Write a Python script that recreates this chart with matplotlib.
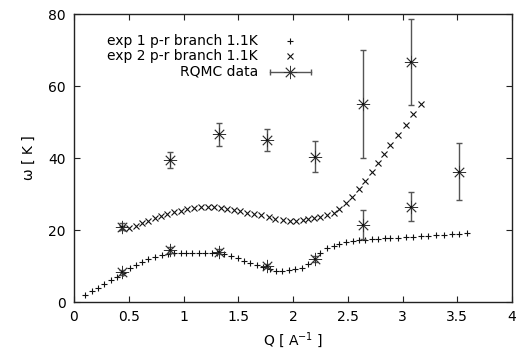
import matplotlib
matplotlib.use("Agg")
import matplotlib.pyplot as plt
from matplotlib.ticker import FormatStrFormatter

# exp 1 p-r branch 1.1K
q_exp1 = [0.10, 0.16, 0.22, 0.27, 0.335, 0.39, 0.45, 0.51, 0.57, 0.62, 0.68, 0.74, 0.80, 0.86,
          0.91, 0.975, 1.025, 1.08, 1.14, 1.20, 1.26, 1.31, 1.37, 1.43, 1.50, 1.555, 1.61, 1.67,
          1.73, 1.79, 1.845, 1.90, 1.96, 2.02, 2.08, 2.14, 2.20, 2.25, 2.31, 2.37, 2.42, 2.48,
          2.545, 2.605, 2.66, 2.72, 2.78, 2.84, 2.89, 2.96, 3.03, 3.10, 3.17, 3.23, 3.31, 3.38,
          3.45, 3.52, 3.59]
w_exp1 = [1.9, 3.0, 4.0, 5.0, 6.1, 7.0, 8.0, 9.4, 10.3, 11.2, 11.9, 12.4, 13.0, 13.3,
          13.5, 13.5, 13.6, 13.7, 13.7, 13.6, 13.6, 13.5, 13.3, 12.8, 12.1, 11.5, 10.9, 10.4,
          9.8, 9.1, 8.5, 8.7, 8.8, 9.1, 9.4, 10.6, 11.9, 13.7, 14.9, 15.6, 16.1, 16.6,
          16.9, 17.1, 17.3, 17.5, 17.6, 17.7, 17.8, 17.9, 18.0, 18.1, 18.2, 18.4, 18.5, 18.6,
          18.8, 18.9, 19.1]

# exp 2 p-r branch 1.1K
q_exp2 = [0.44, 0.505, 0.566, 0.625, 0.68, 0.74, 0.79, 0.85, 0.91, 0.975, 1.035, 1.10, 1.16,
          1.22, 1.28, 1.34, 1.40, 1.46, 1.52, 1.58, 1.64, 1.71, 1.78, 1.84, 1.905, 1.97, 2.03,
          2.09, 2.14, 2.19, 2.25, 2.31, 2.37, 2.42, 2.48, 2.54, 2.60, 2.66, 2.72, 2.78, 2.83,
          2.89, 2.96, 3.03, 3.10, 3.165]
w_exp2 = [20.5, 20.5, 21.2, 21.9, 22.5, 23.2, 23.8, 24.4, 24.9, 25.4, 25.8, 26.1, 26.3,
          26.3, 26.3, 26.1, 25.8, 25.6, 25.3, 24.8, 24.4, 24.1, 23.5, 23.1, 22.8, 22.6, 22.6,
          22.7, 23.0, 23.2, 23.6, 24.1, 24.6, 25.9, 27.4, 29.3, 31.3, 33.5, 36.2, 38.5, 41.1,
          43.6, 46.3, 49.2, 52.1, 54.9]

# RQMC data
q_rqmc = [0.44, 0.88, 1.32, 1.76, 2.20, 2.64, 3.08, 3.52,
          0.44, 0.88, 1.32, 1.76, 2.20, 2.64, 3.08]
w_rqmc = [20.9, 39.4, 46.6, 45.0, 40.4, 55.0, 66.6, 36.2,
          8.2, 14.4, 14.0, 10.0, 11.9, 21.5, 26.5]
err_rqmc = [1.0, 2.3, 3.2, 3.0, 4.2, 15.0, 12.0, 8.0,
            0.8, 0.8, 0.8, 0.6, 0.8, 4.1, 4.0]

labels = ["exp 1 p-r branch 1.1K", "exp 2 p-r branch 1.1K", "RQMC data"]
x_ticks = [0, 0.5, 1, 1.5, 2, 2.5, 3, 3.5, 4]
y_ticks = [0, 20, 40, 60, 80]

plt.rcParams['font.family'] = ['DejaVu Sans']
fig = plt.figure(figsize=(5.21, 3.54), dpi=100)
ax = fig.add_axes([74 / 521, 52 / 354, 438 / 521, 288 / 354])

col = '#111111'
acol = '#333333'
asterisk = (8, 2, 0)
ax.plot(q_exp1, w_exp1, linestyle='none', marker='+', ms=4.5, mew=0.8, color=col)
ax.plot(q_exp2, w_exp2, linestyle='none', marker='x', ms=3.8, mew=0.8, color=col)
ax.errorbar(q_rqmc, w_rqmc, yerr=err_rqmc, fmt='none', ecolor='#555555', elinewidth=1.0,
            capsize=2.5, capthick=1.0)
ax.plot(q_rqmc, w_rqmc, linestyle='none', marker=asterisk, ms=9.5, mew=0.6, color=acol)
ax.plot(q_rqmc, w_rqmc, linestyle='none', marker='s', ms=1.8, mew=0, color=col)

ax.set_xlim(0, 4)
ax.set_ylim(0, 80)
ax.set_xticks(x_ticks)
ax.set_yticks(y_ticks)
ax.xaxis.set_major_formatter(FormatStrFormatter('%g'))
ax.tick_params(direction='in', length=4, width=0.8, top=True, right=True,
               labelsize=10, pad=6, colors='#222222', labelcolor='black')
for s in ax.spines.values():
    s.set_linewidth(1.0)
    s.set_color('#222222')

ax.set_xlabel('Q [ A$^{-1}$ ]', fontsize=10, labelpad=4)
ax.set_ylabel('ω [ K ]', fontsize=10, labelpad=9)

# legend (gnuplot style: right-aligned text, sample to the right)
tr = ax.transAxes
rows_y = [0.906, 0.855, 0.799]
tx = 0.420
sx = 0.493
ax.text(tx, rows_y[0], labels[0], transform=tr, ha='right', va='center', fontsize=10)
ax.text(tx, rows_y[1], labels[1], transform=tr, ha='right', va='center', fontsize=10)
ax.text(tx, rows_y[2], labels[2], transform=tr, ha='right', va='center', fontsize=10)
ax.plot([sx], [rows_y[0]], transform=tr, marker='+', ms=4.5, mew=0.8, color=col, clip_on=False)
ax.plot([sx], [rows_y[1]], transform=tr, marker='x', ms=3.8, mew=0.8, color=col, clip_on=False)
ax.plot([0.447, 0.541], [rows_y[2], rows_y[2]], transform=tr, color='#555555', lw=1.0)
ax.plot([0.447, 0.541], [rows_y[2], rows_y[2]], transform=tr, linestyle='none',
        marker='|', ms=5, mew=1.0, color='#555555')
ax.plot([sx], [rows_y[2]], transform=tr, marker=asterisk, ms=9.5, mew=0.6, color=acol)

fig.savefig('out.png', dpi=100)
